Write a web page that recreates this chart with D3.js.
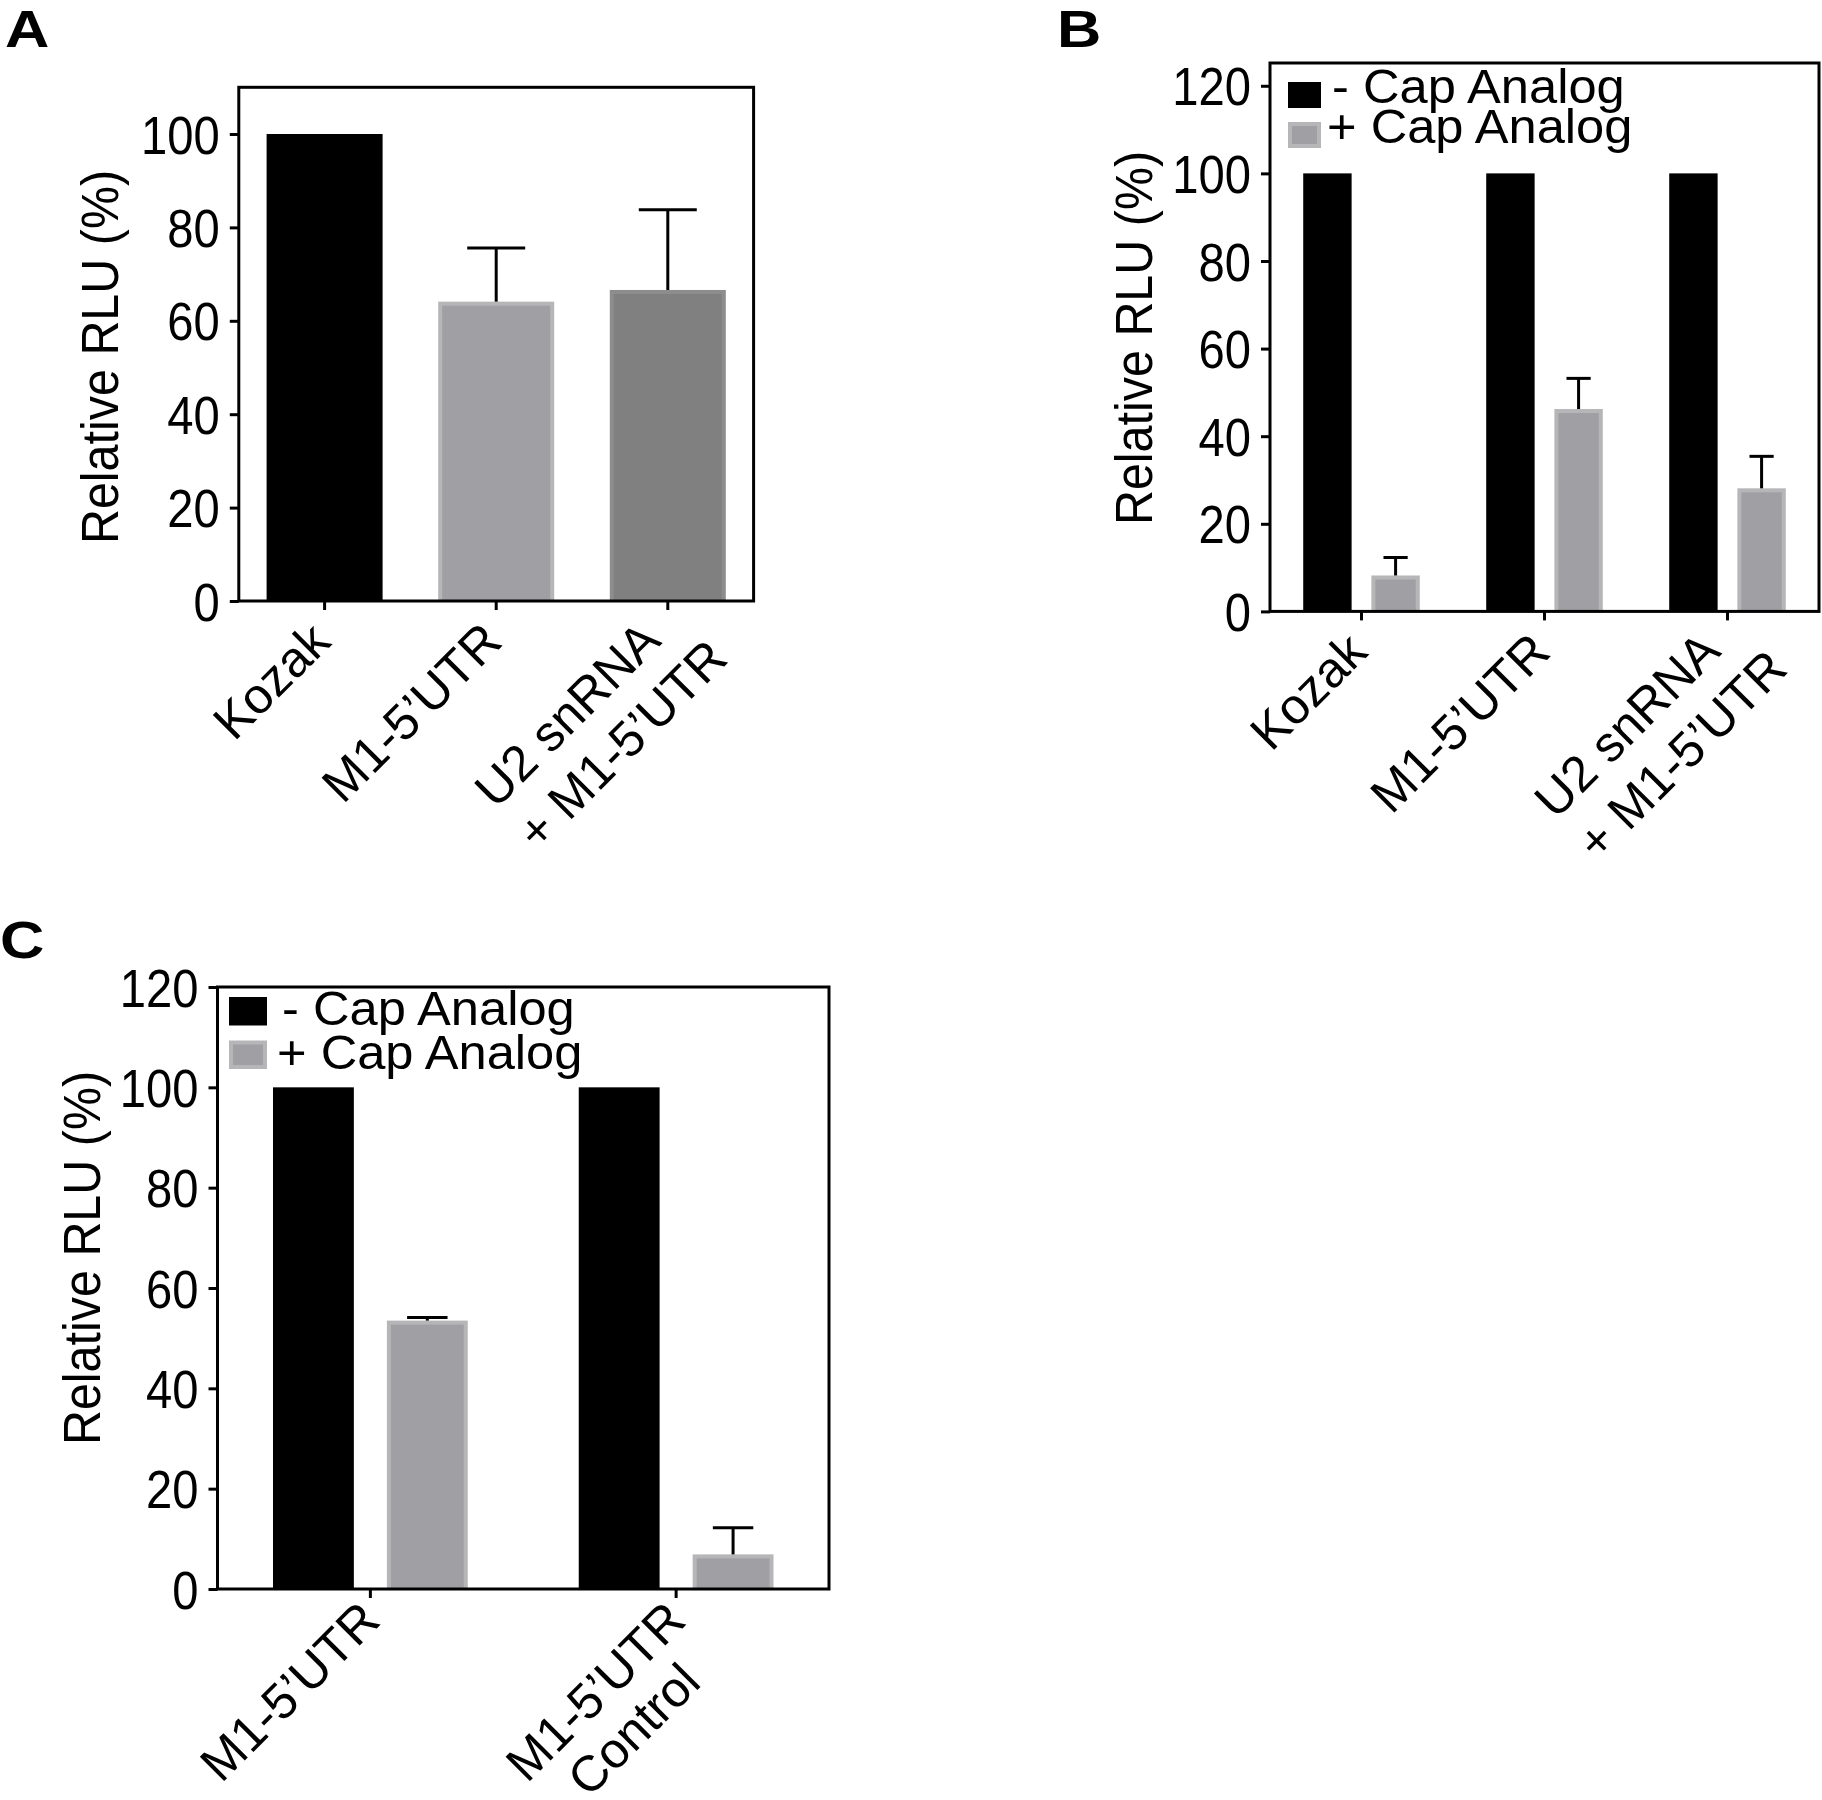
<!DOCTYPE html>
<html><head><meta charset="utf-8">
<script src="https://cdn.jsdelivr.net/npm/d3@7"></script>
<style>body{margin:0;background:#fff}</style>
</head><body>
<svg id="fig" width="1822" height="1800" xmlns="http://www.w3.org/2000/svg"></svg>
<script>
// ---------------- data ----------------
const catsA = ["Kozak", "M1-5\u2019UTR", "U2 snRNA\n+ M1-5\u2019UTR"];
const valsA = [100, 64.1, 66.6];
const errsA = [0, 11.5, 17.2];
const ticksA = [0, 20, 40, 60, 80, 100];

const seriesNames = ["- Cap Analog", "+ Cap Analog"];

const catsB = ["Kozak", "M1-5\u2019UTR", "U2 snRNA\n+ M1-5\u2019UTR"];
const minusB = [100, 100, 100];
const minusErrB = [0, 0, 0];
const plusB = [8.2, 46.2, 28.1];
const plusErrB = [4.1, 7.0, 7.3];
const ticksB = [0, 20, 40, 60, 80, 100, 120];

const catsC = ["M1-5\u2019UTR", "M1-5\u2019UTR\nControl"];
const minusC = [100, 100];
const minusErrC = [0, 0];
const plusC = [53.5, 6.9];
const plusErrC = [0.6, 5.3];
const ticksC = [0, 20, 40, 60, 80, 100, 120];

const yTitle = "Relative RLU (%)";

// ---------------- style ----------------
const FONT = "'Liberation Sans', Arial, Helvetica, sans-serif";
const STYLE = {
  black: {fill: "#000000", edge: "#000000"},
  gray:  {fill: "#a0a0a4", edge: "#b6b6b8"},
  dark:  {fill: "#808080", edge: "#8d8d8d"}
};
const LW = 3;

const svg = d3.select("#fig");

function drawPanel(cfg) {
  const g = svg.append("g");
  const x = d3.scaleBand().domain(cfg.cats).range([cfg.left, cfg.right]).padding(0);
  const y = d3.scaleLinear().domain([0, cfg.ymax]).range([cfg.bottom, cfg.top]);

  const nS = cfg.series.length;
  const groupW = x.bandwidth() * cfg.groupFrac;
  const x1 = d3.scaleBand().domain(d3.range(nS)).range([-groupW / 2, groupW / 2])
    .paddingInner(nS > 1 ? 0.29 : 0).paddingOuter(0);
  const bw = x1.bandwidth();

  cfg.series.forEach((s, si) => {
    cfg.cats.forEach((c, ci) => {
      const st = STYLE[s.styles[ci]];
      const cx = x(c) + x.bandwidth() / 2 + x1(si) + bw / 2;
      const v = s.values[ci];
      const yv = y(v);
      if (st.edge !== st.fill) {
        g.append("rect").attr("x", cx - bw / 2).attr("y", yv).attr("width", bw)
          .attr("height", cfg.bottom - yv).attr("fill", st.edge);
        g.append("rect").attr("x", cx - bw / 2 + 4).attr("y", yv + 4).attr("width", bw - 8)
          .attr("height", Math.max(0, cfg.bottom - yv - 4)).attr("fill", st.fill);
      } else {
        g.append("rect").attr("x", cx - bw / 2).attr("y", yv).attr("width", bw)
          .attr("height", cfg.bottom - yv).attr("fill", st.fill);
      }
      const e = s.errors[ci];
      if (e > 0) {
        const ye = y(v + e);
        g.append("line").attr("x1", cx).attr("x2", cx).attr("y1", yv).attr("y2", ye)
          .attr("stroke", "#000").attr("stroke-width", LW);
        g.append("line").attr("x1", cx - bw / 4).attr("x2", cx + bw / 4).attr("y1", ye).attr("y2", ye)
          .attr("stroke", "#000").attr("stroke-width", LW);
      }
    });
  });

  // frame
  g.append("rect").attr("x", cfg.left).attr("y", cfg.top)
    .attr("width", cfg.right - cfg.left).attr("height", cfg.bottom - cfg.top)
    .attr("fill", "none").attr("stroke", "#000").attr("stroke-width", LW);

  // y axis
  const ya = g.append("g").attr("transform", `translate(${cfg.left},0)`)
    .call(d3.axisLeft(y).tickValues(cfg.ticks).tickSize(9).tickSizeOuter(0).tickPadding(9));
  ya.select(".domain").remove();
  ya.selectAll(".tick line").attr("stroke", "#000").attr("stroke-width", LW);
  ya.selectAll(".tick text").attr("x", 0).attr("dy", "0.36em")
    .attr("transform", "translate(-19,0) scale(0.89,1)")
    .attr("font-size", 53).attr("font-family", FONT).attr("fill", "#000");

  // x axis ticks
  const xa = g.append("g").attr("transform", `translate(0,${cfg.bottom})`)
    .call(d3.axisBottom(x).tickSize(9).tickSizeOuter(0).tickFormat(""));
  xa.select(".domain").remove();
  xa.selectAll(".tick line").attr("stroke", "#000").attr("stroke-width", LW);

  // x labels (rotated)
  cfg.cats.forEach(c => {
    const lines = c.split("\n");
    const cx = x(c) + x.bandwidth() / 2;
    const off = (lines.length > 1 && cfg.align === "start") ? cfg.multiOff : cfg.singleOff;
    const t = g.append("text")
      .attr("transform", `translate(${cx + off[0]},${cfg.bottom + off[1]}) rotate(-45)`)
      .attr("text-anchor", "end").attr("font-size", 50).attr("font-family", FONT);
    lines.forEach((ln, j) => t.append("tspan").attr("x", 0).attr("y", j * cfg.lineH).text(ln));
    const spans = t.selectAll("tspan").nodes();
    const w = spans.map(s => s.getComputedTextLength());
    spans.forEach((s, j) => {
      const shift = cfg.align === "start" ? (w[j] - w[0]) : (w[j] - w[0]) / 2;
      d3.select(s).attr("x", shift);
    });
  });

  // y title
  g.append("text").attr("transform", `translate(${cfg.titleX},${cfg.titleY}) rotate(-90) scale(0.95,1)`)
    .attr("text-anchor", "middle").attr("font-size", 51).attr("font-family", FONT)
    .text(yTitle);

  // panel letter
  g.append("text").attr("transform", `translate(${cfg.letterX},${cfg.letterY}) scale(1.18,1)`)
    .attr("font-size", 52).attr("font-weight", "bold").attr("font-family", FONT)
    .text(cfg.letter);

  // legend
  if (cfg.legend) {
    const L = cfg.legend;
    cfg.series.forEach((s, si) => {
      const st = STYLE[s.styles[0]];
      const ty = L.top + si * L.row;
      g.append("rect").attr("x", L.x).attr("y", ty).attr("width", L.w).attr("height", L.h)
        .attr("fill", st.edge);
      if (st.edge !== st.fill) {
        g.append("rect").attr("x", L.x + 4).attr("y", ty + 4).attr("width", L.w - 8).attr("height", L.h - 8)
          .attr("fill", st.fill);
      }
      g.append("text").attr("transform", `translate(${L.textX[si]},${ty + L.base}) scale(1.055,1)`)
        .attr("font-size", 48).attr("font-family", FONT).text(s.name);
    });
  }
}

drawPanel({
  letter: "A", letterX: 5, letterY: 47,
  cats: catsA, ticks: ticksA, ymax: 110,
  left: 238.8, right: 753.6, bottom: 601, top: 87.3,
  groupFrac: 0.676, align: "start", singleOff: [8, 43], multiOff: [-5, 42], lineH: 60,
  titleX: 118, titleY: 357,
  series: [{name: "", values: valsA, errors: errsA, styles: ["black", "gray", "dark"]}]
});

drawPanel({
  letter: "B", letterX: 1057, letterY: 47,
  cats: catsB, ticks: ticksB, ymax: 125.2,
  left: 1270, right: 1819, bottom: 611.4, top: 63,
  groupFrac: 0.637, align: "start", singleOff: [8, 43], multiOff: [-5, 42], lineH: 60,
  titleX: 1152, titleY: 338,
  series: [
    {name: seriesNames[0], values: minusB, errors: minusErrB, styles: ["black", "black", "black"]},
    {name: seriesNames[1], values: plusB, errors: plusErrB, styles: ["gray", "gray", "gray"]}
  ],
  legend: {x: 1288, top: 82, row: 40, w: 33, h: 26, textX: [1332, 1327], base: 21}
});

drawPanel({
  letter: "C", letterX: 0, letterY: 958,
  cats: catsC, ticks: ticksC, ymax: 120,
  left: 217.5, right: 829, bottom: 1589, top: 987,
  groupFrac: 0.637, align: "middle", singleOff: [12, 34], multiOff: [12, 34], lineH: 54,
  titleX: 100, titleY: 1258,
  series: [
    {name: seriesNames[0], values: minusC, errors: minusErrC, styles: ["black", "black"]},
    {name: seriesNames[1], values: plusC, errors: plusErrC, styles: ["gray", "gray"]}
  ],
  legend: {x: 229, top: 997, row: 43.5, w: 38, h: 28.5, textX: [282, 277], base: 28}
});
</script>
</body></html>
